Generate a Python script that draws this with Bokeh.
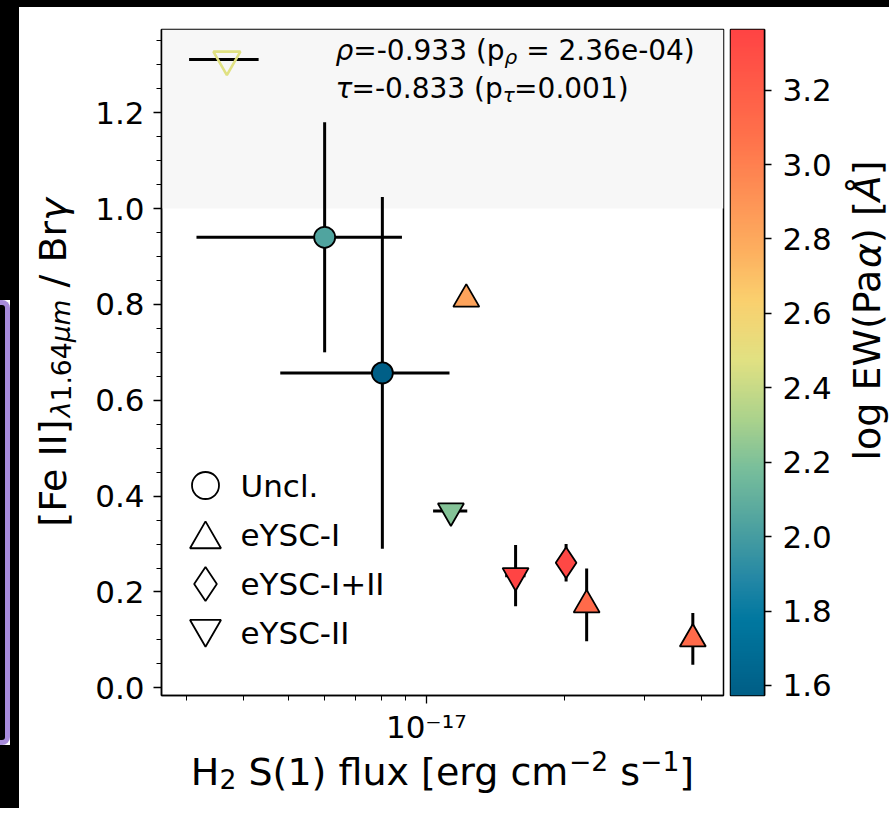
import math
import numpy as np
from bokeh.plotting import figure
from bokeh.models import (ColumnDataSource, LinearColorMapper, FixedTicker, CustomJSTickFormatter,
                          PrintfTickFormatter, BoxAnnotation, Label, Div, Range1d)
from bokeh.layouts import row, column
from bokeh.transform import transform
from bokeh.embed import file_html
from bokeh.resources import INLINE

# ---------------- data ----------------
uncl_x = [6.0e-18, 8.02e-18]
uncl_y = [0.94, 0.657]
uncl_xerr = [2.85e-18, 3.22e-18]
uncl_yerr = [0.24, 0.367]
uncl_ew = [2.04, 1.573]

eysc1_x = [1.223e-17, 2.24e-17, 3.82e-17]
eysc1_y = [0.811, 0.173, 0.102]
eysc1_xerr = [0.0, 0.0, 0.0]
eysc1_yerr = [0.0, 0.076, 0.054]
eysc1_ew = [2.83, 3.12, 3.12]

eysc12_x = [2.02e-17]
eysc12_y = [0.261]
eysc12_xerr = [0.0]
eysc12_yerr = [0.039]
eysc12_ew = [3.33]

eysc2_x = [1.132e-17, 1.567e-17]
eysc2_y = [0.369, 0.234]
eysc2_xerr = [0.97e-18, 0.8e-18]
eysc2_yerr = [0.0, 0.064]
eysc2_ew = [2.21, 3.363]

# unfilled eYSC-II point in the shaded region
open_x = [3.67e-18]
open_y = [1.311]
open_xerr = [0.635e-18]
open_yerr = [0.0]
open_ew = [2.47]

legend_labels = ["Uncl.", "eYSC-I", "eYSC-I+II", "eYSC-II"]
legend_markers = ["circle", "triangle", "diamond", "inverted_triangle"]
rho, p_rho = "-0.933", "2.36e-04"
tau, p_tau = "-0.833", "0.001"

x_major_ticks = [1e-17]
x_tick_labels = ["10⁻¹⁷"]
x_minor_ticks = [3e-18, 4e-18, 5e-18, 6e-18, 7e-18, 8e-18, 9e-18, 2e-17, 3e-17, 4e-17]
y_ticks = [0.0, 0.2, 0.4, 0.6, 0.8, 1.0, 1.2]
y_minor_ticks = [round(0.05 * i, 2) for i in range(0, 28)]
cb_ticks = [1.6, 1.8, 2.0, 2.2, 2.4, 2.6, 2.8, 3.0, 3.2]
ew_lo, ew_hi = 1.573, 3.363
x_lo, x_hi = 2.642e-18, 4.457e-17
y_lo, y_hi = -0.016, 1.3735
shade_from = 1.0

# ---------------- layout constants (pixels) ----------------
FW, FH = 562, 666            # plot frame size
TOP_H, LEFT_W = 7, 19        # black strips of the reference screenshot
FULL_H = 801
YLAB_W = 61
MAIN_W, MAIN_H = 646, 740
CB_W, CBLAB_W = 114, 49
XLAB_H = FULL_H - MAIN_H
FRAME_MID_Y = 362            # vertical centre of the frame on the page

# ---------------- colormap (sampled from the reference colorbar) ----------------
anchors = [(1.576, (0, 95, 135)), (1.775, (0, 120, 160)), (1.883, (35, 135, 165)),
           (2.017, (75, 160, 160)), (2.18, (120, 190, 155)), (2.313, (170, 210, 140)),
           (2.474, (225, 225, 130)), (2.635, (250, 208, 110)), (2.77, (253, 175, 95)),
           (3.066, (255, 115, 75)), (3.361, (255, 68, 68))]
av = np.array([a[0] for a in anchors])
ac = np.array([a[1] for a in anchors], dtype=float)
palette = []
for v in np.linspace(ew_lo, ew_hi, 256):
    rgb = [int(round(np.interp(v, av, ac[:, k]))) for k in range(3)]
    palette.append("#%02x%02x%02x" % tuple(rgb))
mapper = LinearColorMapper(palette=palette, low=ew_lo, high=ew_hi)

FONT = "DejaVu Sans"
W = {' ': 0.318, '(': 0.390, ')': 0.390, '[': 0.390, ']': 0.390, '-': 0.361, '−': 0.838,
     '.': 0.318, '=': 0.838, '+': 0.838, 'e': 0.615, 'p': 0.635, 'ρ': 0.635, 'τ': 0.569,
     'F': 0.575, 'I': 0.295, '/': 0.337, 'B': 0.686, 'r': 0.411, 'γ': 0.592, 'λ': 0.592,
     'μ': 0.636, 'm': 0.974, 'l': 0.278, 'o': 0.612, 'g': 0.635, 'E': 0.632, 'W': 0.989,
     'P': 0.603, 'a': 0.613, 'α': 0.659, 'Å': 0.684, 'H': 0.752, 'S': 0.635, 'f': 0.352,
     'u': 0.634, 'x': 0.592, 'c': 0.550, 's': 0.521}
for d in "0123456789":
    W[d] = 0.636


def text_width(s, size):
    return sum(W.get(ch, 0.6) for ch in s) * size


def add_runs(fig, runs, sx, sy, angle=0.0, align="left"):
    total = sum(text_width(t, sz) for t, sz, dy, it in runs)
    adv = -total / 2 if align == "center" else 0.0
    for t, sz, dy, it in runs:
        lead = len(t) - len(t.lstrip(' '))
        a = adv + lead * W[' '] * sz
        if angle == 0:
            x, y = sx + a, sy + dy
        else:
            x, y = sx - dy, sy + a
        fig.add_layout(Label(x=x, y=y, x_units="screen", y_units="screen", text=t.strip(),
                             angle=angle, text_font=FONT, text_font_size=f"{sz}px",
                             text_font_style="italic" if it else "normal",
                             text_align="left", text_baseline="alphabetic", text_color="black"))
        adv += text_width(t, sz)


def blank_fig(w, h, bg="white"):
    f = figure(width=w, height=h, x_axis_location=None, y_axis_location=None,
               output_backend="svg", toolbar_location=None, min_border=0,
               x_range=Range1d(0, 1), y_range=Range1d(0, 1))
    f.outline_line_color = None
    f.background_fill_color = bg
    f.border_fill_color = bg
    f.xgrid.visible = False
    f.ygrid.visible = False
    return f


# ---------------- main figure ----------------
p = figure(width=MAIN_W, height=MAIN_H, x_axis_type="log",
           x_range=Range1d(x_lo, x_hi), y_range=Range1d(y_lo, y_hi),
           output_backend="svg", toolbar_location=None,
           min_border_left=MAIN_W - FW - 3, min_border_right=3,
           min_border_top=22, min_border_bottom=MAIN_H - FH - 22)
p.background_fill_color = "white"
p.border_fill_color = "white"
p.outline_line_color = "black"
p.outline_line_width = 1.5
p.xgrid.visible = False
p.ygrid.visible = False

p.add_layout(BoxAnnotation(bottom=shade_from, fill_color="#f7f7f7", fill_alpha=1.0,
                           line_alpha=0, level="underlay"))

groups = [
    (uncl_x, uncl_y, uncl_xerr, uncl_yerr, uncl_ew, "circle", 21),
    (eysc1_x, eysc1_y, eysc1_xerr, eysc1_yerr, eysc1_ew, "triangle", 26),
    (eysc12_x, eysc12_y, eysc12_xerr, eysc12_yerr, eysc12_ew, "diamond", 31),
    (eysc2_x, eysc2_y, eysc2_xerr, eysc2_yerr, eysc2_ew, "inverted_triangle", 26),
    (open_x, open_y, open_xerr, open_yerr, open_ew, "inverted_triangle", 27),
]

sources = []
for gx, gy, gxe, gye, gc, mk, sz in groups:
    x = np.array(gx); y = np.array(gy); xe = np.array(gxe); ye = np.array(gye)
    src = ColumnDataSource(dict(x=x, y=y, c=gc, xl=x - xe, xh=x + xe, yl=y - ye, yh=y + ye))
    p.segment(x0="xl", y0="y", x1="xh", y1="y", source=src, line_color="black", line_width=3)
    p.segment(x0="x", y0="yl", x1="x", y1="yh", source=src, line_color="black", line_width=3)
    sources.append((src, mk, sz))

for i, (src, mk, sz) in enumerate(sources):
    if i < 4:
        p.scatter(x="x", y="y", source=src, marker=mk, size=sz,
                  fill_color=transform("c", mapper), line_color="black", line_width=1.8)
    else:
        p.scatter(x="x", y="y", source=src, marker=mk, size=sz, fill_alpha=0,
                  line_color=transform("c", mapper), line_width=2.6)

# axes
p.xaxis.ticker = FixedTicker(ticks=x_major_ticks, minor_ticks=x_minor_ticks)
p.xaxis.formatter = CustomJSTickFormatter(args=dict(major_vals=x_major_ticks, major_labs=x_tick_labels), code="""
for (let i = 0; i < major_vals.length; i++) {
  if (Math.abs(Math.log10(tick) - Math.log10(major_vals[i])) < 1e-6) return major_labs[i];
}
return '';
""")
p.yaxis.ticker = FixedTicker(ticks=y_ticks, minor_ticks=y_minor_ticks)
p.yaxis.formatter = PrintfTickFormatter(format="%.1f")
for ax in (p.xaxis[0], p.yaxis[0]):
    ax.axis_line_color = "black"
    ax.axis_line_width = 1.5
    ax.major_tick_in = 0
    ax.major_tick_out = 8
    ax.minor_tick_in = 0
    ax.minor_tick_out = 5
    ax.major_tick_line_width = 1.3
    ax.minor_tick_line_width = 1.0
    ax.major_tick_line_color = "black"
    ax.minor_tick_line_color = "black"
    ax.major_label_text_font = FONT
    ax.major_label_text_font_size = "31px"
    ax.major_label_text_color = "black"
p.yaxis.major_label_standoff = 9
p.xaxis.major_label_standoff = 5

# legend (hollow markers + labels), placed at fixed pixel rows inside the frame
leg_sx, leg_text_sx, leg_sy0, leg_pitch = 44, 79, 210, 49.3
leg_sizes = {"circle": 27, "triangle": 31, "diamond": 34, "inverted_triangle": 31}
llx, lhx = math.log10(x_lo), math.log10(x_hi)
for k, (lab, mk) in enumerate(zip(legend_labels, legend_markers)):
    sy = leg_sy0 - k * leg_pitch
    shift = {"triangle": -4.5, "inverted_triangle": 4.5}.get(mk, 0.0)
    mx = 10 ** (llx + leg_sx / FW * (lhx - llx))
    my = y_lo + (sy + shift) / FH * (y_hi - y_lo)
    p.scatter(x=[mx], y=[my], marker=mk, size=leg_sizes[mk], fill_alpha=0,
              line_color="black", line_width=1.8)
    add_runs(p, [(lab, 31, 0, False)], leg_text_sx, sy)

# correlation annotation
T, TS = 28, 20
add_runs(p, [("ρ", T, 0, True), (f"={rho} (p", T, 0, False), ("ρ", TS, -6, True),
             (f" = {p_rho})", T, 0, False)], 174, 645)
add_runs(p, [("τ", T, 0, True), (f"={tau} (p", T, 0, False), ("τ", TS, -6, True),
             (f"={p_tau})", T, 0, False)], 174, 607)

# ---------------- colorbar figure ----------------
p_cb = figure(width=CB_W, height=MAIN_H, x_range=Range1d(0, 1), y_range=Range1d(ew_lo, ew_hi),
              x_axis_location=None, y_axis_location="right",
              output_backend="svg", toolbar_location=None,
              min_border_left=4, min_border_right=CB_W - 4 - 34,
              min_border_top=22, min_border_bottom=MAIN_H - FH - 22)
p_cb.border_fill_color = "white"
p_cb.xgrid.visible = False
p_cb.ygrid.visible = False
p_cb.outline_line_color = "black"
p_cb.outline_line_width = 1.5
grad = np.linspace(ew_lo, ew_hi, 512).reshape(-1, 1)
p_cb.image(image=[grad], x=0, y=ew_lo, dw=1, dh=ew_hi - ew_lo, color_mapper=mapper)
ya = p_cb.yaxis[0]
ya.ticker = FixedTicker(ticks=cb_ticks, minor_ticks=[])
ya.formatter = PrintfTickFormatter(format="%.1f")
ya.axis_line_color = "black"
ya.axis_line_width = 1.5
ya.major_tick_in = 0
ya.major_tick_out = 7
ya.major_tick_line_width = 1.3
ya.major_label_standoff = 11
ya.major_label_text_font = FONT
ya.major_label_text_font_size = "31px"
ya.major_label_text_color = "black"

# ---------------- axis-label strips ----------------
L, LS = 38, 26.6
ylab = blank_fig(YLAB_W, FULL_H)
add_runs(ylab, [("[Fe II]", L, 0, False), ("λ", LS, -8, True), ("1.64", LS, -8, False),
                ("μm", LS, -8, True), (" / Br", L, 0, False), ("γ", L, 0, True)],
         33, TOP_H + FULL_H - FRAME_MID_Y, angle=math.pi / 2, align="center")

xlab = blank_fig(MAIN_W, XLAB_H)
add_runs(xlab, [("H", L, 0, False), ("2", LS, -7, False), (" S(1) flux [erg cm", L, 0, False),
                ("−2", LS, 11, False), (" s", L, 0, False), ("−1", LS, 11, False), ("]", L, 0, False)],
         362, 37, align="center")

cblab = blank_fig(CBLAB_W, MAIN_H)
add_runs(cblab, [("log EW(Pa", L, 0, False), ("α", L, 0, True), (") [", L, 0, False),
                 ("Å", L, 0, True), ("]", L, 0, False)],
         26, TOP_H + MAIN_H - FRAME_MID_Y, angle=math.pi / 2, align="center")

# ---------------- page frame (black strips + purple box of the reference screenshot) ----------------
top_bar = Div(width=889, height=TOP_H, margin=0, styles={"background-color": "black"})
box_style = {"background-color": "black", "border": "5px solid #a78bdb", "border-left": "none",
             "border-radius": "0 8px 8px 0", "box-sizing": "border-box"}
left_strip = column(
    Div(width=LEFT_W, height=293, margin=0, styles={"background-color": "black"}),
    row(Div(width=10, height=445, margin=0, styles=box_style),
        Div(width=LEFT_W - 10, height=445, margin=0, styles={"background-color": "black"}), spacing=0),
    Div(width=LEFT_W, height=FULL_H - 293 - 445, margin=0, styles={"background-color": "black"}),
    spacing=0)

right_part = column(row(p, p_cb, cblab, spacing=0), xlab, spacing=0)
root = column(top_bar, row(left_strip, ylab, right_part, spacing=0), spacing=0,
              styles={"position": "absolute", "left": "0px", "top": "0px"})

open("out.html", "w").write(file_html(root, INLINE, title="H2 vs FeII/Brg"))
